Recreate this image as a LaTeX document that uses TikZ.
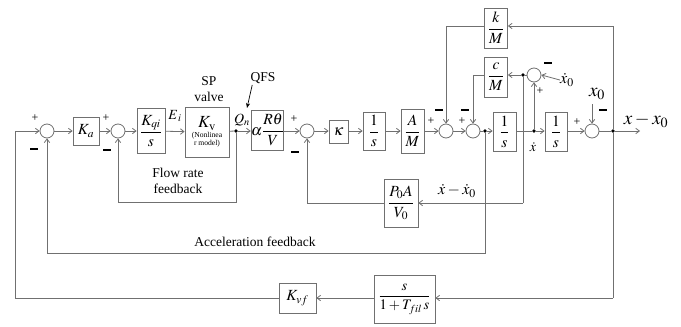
\documentclass[tikz,border=0pt]{standalone}
\usepackage{amsmath,amssymb}
\usepackage{mathptmx}
\usepackage{fontspec}
\setmainfont{Liberation Serif}
\usetikzlibrary{arrows.meta}
\definecolor{lc}{HTML}{707070}
\begin{document}
\begin{tikzpicture}[x=1pt,y=-1pt,line width=0.8pt,
  blk/.style={draw=lc, inner sep=0pt, fill=white, font=\fontsize{15.5}{17}\selectfont},
  sumc/.style={circle, draw=lc, fill=white, minimum size=14pt, inner sep=0pt},
  dotn/.style={circle, fill=black, minimum size=3.6pt, inner sep=0pt},
  ln/.style={draw=lc},
  ar/.style={draw=lc, -{Straight Barb[length=3.6pt,width=5.5pt]}},
  sg/.style={inner sep=0pt, font=\fontsize{12}{12}\selectfont},
  lab/.style={inner sep=0pt, font=\fontsize{13.5}{15.5}\selectfont, align=center}]
\useasboundingbox (0,0) rectangle (681,327);
\newcommand{\mn}{\rule{7.5pt}{1.6pt}}
% forward path
\node[sumc] (s1) at (47,131) {};
\node[blk, minimum width=26pt, minimum height=28pt] (Ka) at (86,131) {$K_a$};
\node[sumc] (s2) at (118,131) {};
\node[blk, minimum width=28pt, minimum height=45pt] (Kqi) at (151,131) {$\dfrac{K_{qi}}{s}$};
\node[blk, minimum width=44pt, minimum height=50pt, align=center, font=\fontsize{7.6}{8.4}\selectfont] (Kv) at (207,132) {\fontsize{17}{17}\selectfont$K_{\mathrm{v}}$\\[1pt]\fontsize{7.6}{8.4}\selectfont (Nonlinea\\r model)};
\node[dotn] (dQ) at (236,131) {};
\node[blk, minimum width=31pt, minimum height=40pt] (al) at (267.5,130) {$\alpha\dfrac{R\theta}{V}$};
\node[sumc] (s3) at (307,131) {};
\node[blk, minimum width=19pt, minimum height=23pt] (K) at (338.5,131.5) {$\boldsymbol{\kappa}$};
\node[blk, minimum width=22pt, minimum height=38pt] (I1) at (374,131) {$\dfrac{1}{s}$};
\node[blk, minimum width=23pt, minimum height=44pt] (AM) at (412.5,131) {$\dfrac{A}{M}$};
\node[sumc] (s4) at (446,131) {};
\node[sumc] (s6) at (473,131) {};
\node[dotn] (d6) at (485,131) {};
\node[blk, minimum width=23pt, minimum height=39pt] (I2) at (504.5,131.5) {$\dfrac{1}{s}$};
\node[dotn] (dv) at (534,131) {};
\node[blk, minimum width=22pt, minimum height=39pt] (I3) at (556,131.5) {$\dfrac{1}{s}$};
\node[sumc] (s7) at (592,131) {};
\node[dotn] (dout) at (613,131) {};
\coordinate (oend) at (640,131);
% upper blocks
\node[blk, minimum width=23pt, minimum height=40pt] (kM) at (496,28) {$\dfrac{k}{M}$};
\node[blk, minimum width=23pt, minimum height=40pt] (cM) at (496,77) {$\dfrac{c}{M}$};
\node[sumc] (s5) at (534,75) {};
\node[dotn] (dc) at (523,75) {};
% lower blocks
\node[blk, minimum width=34pt, minimum height=48pt] (PA) at (401,203) {$\dfrac{P_0A}{V_0}$};
\node[blk, minimum width=37pt, minimum height=30pt] (Kvf) at (297.5,298) {$K_{vf}$};
\node[blk, minimum width=61pt, minimum height=48pt, font=\fontsize{14.5}{16}\selectfont] (sF) at (404.5,299) {$\dfrac{s}{1+T_{fil}\,s}$};
% coordinates for routing
\coordinate (c15a) at (15,131);
\coordinate (c15b) at (15,298);
\coordinate (c613b) at (613,298);
\coordinate (c613t) at (613,26);
\coordinate (c447t) at (446,26);
\coordinate (c473t) at (473,75);
\coordinate (a1) at (485,253);
\coordinate (a2) at (47,253);
\coordinate (f1) at (236,202);
\coordinate (f2) at (118,202);
\coordinate (p1) at (523,203);
\coordinate (p2) at (307,203);
% forward connectors
\draw[ar] (c15a) -- (s1);
\draw[ar] (s1) -- (Ka);
\draw[ar] (Ka) -- (s2);
\draw[ar] (s2) -- (Kqi);
\draw[ar] (Kqi) -- (Kv);
\draw[ln] (Kv) -- (dQ);
\draw[ar] (dQ) -- (al.west |- dQ);
\draw[ar] (al.east |- s3) -- (s3);
\draw[ar] (s3) -- (K.west |- s3);
\draw[ar] (K.east |- s3) -- (I1);
\draw[ar] (I1) -- (AM);
\draw[ar] (AM) -- (s4);
\draw[ar] (s4) -- (s6);
\draw[ln] (s6) -- (d6);
\draw[ar] (d6) -- (I2.west |- d6);
\draw[ln] (I2.east |- dv) -- (dv);
\draw[ar] (dv) -- (I3.west |- dv);
\draw[ar] (I3.east |- s7) -- (s7);
\draw[ln] (s7) -- (dout);
\draw[ar] (dout) -- (oend);
% feedback connectors
\draw[ar] (d6) -- (a1) -- (a2) -- (s1.south);
\draw[ar] (dQ) -- (f1) -- (f2) -- (s2.south);
\draw[ln] (dc) -- (p1);
\draw[ar] (p1) -- (PA.east);
\draw[ar] (PA.west) -- (p2) -- (s3.south);
\draw[ln] (dout) -- (c613t);
\draw[ar] (c613t) -- (kM.east |- c613t);
\draw[ar] (kM.west |- c613t) -- (c447t) -- (s4.north);
\draw[ar] (cM.west |- c473t) -- (c473t) -- (s6.north);
\draw[ln] (s5) -- (dc);
\draw[ar] (dc) -- (cM.east |- dc);
\draw[ar] (dv) -- (s5.south);
\draw[ln] (dout) -- (c613b);
\draw[ar] (c613b) -- (sF.east |- c613b);
\draw[ar] (sF.west |- Kvf) -- (Kvf);
\draw[ln] (Kvf) -- (c15b) -- (c15a);
% external inputs
\node[inner sep=0pt, font=\fontsize{16}{16}\selectfont] (xd0) at (567,80) {$\dot{x}_0$};
\draw[ar] (xd0.west) -- (s5.east);
\node[inner sep=0pt, font=\fontsize{19}{19}\selectfont] (x0) at (597,94) {$x_0$};
\draw[ar] (592,104) -- (s7.north);
% signs
\node[sg] at (35,118) {+};   \node[sg] at (34,149) {\mn};
\node[sg] at (106,118) {+};  \node[sg] at (107,150) {\mn};
\node[sg] at (294,119) {+};  \node[sg] at (295,152) {\mn};
\node[sg] at (431,121) {+};  \node[sg] at (439,110) {\mn};
\node[sg] at (462,121) {+};  \node[sg] at (465,110) {\mn};
\node[sg] at (540,91) {+};   \node[sg] at (548,63) {\mn};
\node[sg] at (577,122) {+};  \node[sg] at (603,110) {\mn};
% labels
\node[inner sep=0pt, font=\fontsize{14}{14}\selectfont] (Ei) at (175,116) {$E_{\,i}$};
\node[inner sep=0pt, font=\fontsize{14}{14}\selectfont] (Qn) at (242,120) {$Q_n$};
\node[lab] (SP) at (209,89) {SP\\valve};
\node[lab] (QFS) at (263,78) {QFS};
\coordinate (qtip) at (247,108);
\draw[black, line width=0.7pt, -{Stealth[length=5pt,width=4pt]}] (QFS.south west) ++(2,1) -- (qtip);
\node[inner sep=0pt, font=\fontsize{14}{14}\selectfont] (xdot) at (533,147) {$\dot{x}$};
\node[inner sep=0pt, font=\fontsize{16}{16}\selectfont] (xdx) at (457,191) {$\dot{x}-\dot{x}_0$};
\node[inner sep=0pt, font=\fontsize{19}{19}\selectfont] (xx0) at (646,121) {$x-x_0$};
\node[lab] (flow) at (178,181) {Flow rate\\[1pt]feedback};
\node[lab] (acc) at (255,242) {Acceleration feedback};
\end{tikzpicture}
\end{document}
